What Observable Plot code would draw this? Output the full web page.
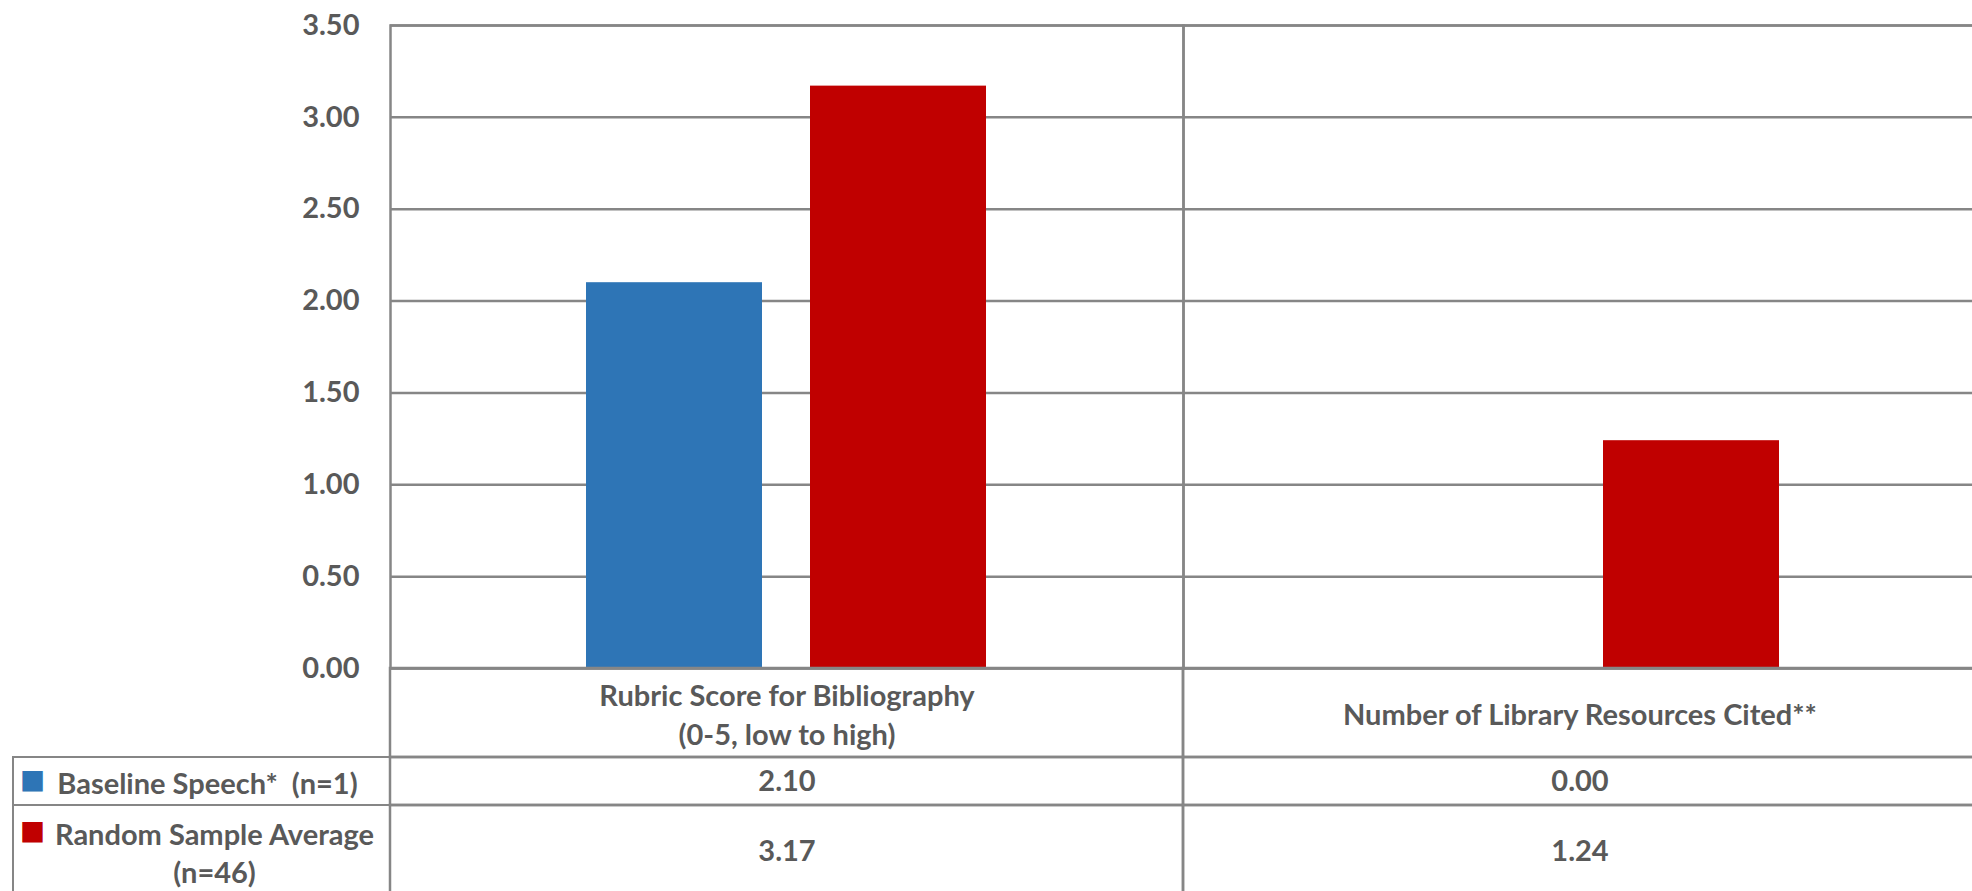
<!DOCTYPE html>
<html><head><meta charset="utf-8">
<script src="https://cdn.jsdelivr.net/npm/d3@7"></script>
<script src="https://cdn.jsdelivr.net/npm/@observablehq/plot@0.6"></script>
<style>
html,body{margin:0;padding:0;background:#fff;overflow:hidden}
#chart{position:relative;width:1972px;height:891px;background:#fff;overflow:hidden}
#chart svg{position:absolute;left:0}
.rowline{position:absolute;box-sizing:border-box;border-top:2.5px solid #868686;border-left:2.5px solid #868686}
text{white-space:pre}
</style></head><body><div id="chart"></div>
<script>
// ---- data ----
const categories = ["Rubric Score for Bibliography\n(0-5, low to high)", "Number of Library Resources Cited**"];
const seriesNames = ["Baseline Speech*  (n=1)", "Random Sample Average\n(n=46)"];
const baselineValues = [2.10, 0.00];
const randomValues = [3.17, 1.24];
const seriesColors = ["#2E75B6", "#C00000"];
const yTicks = [0, 0.5, 1, 1.5, 2, 2.5, 3, 3.5];

const seriesValues = [baselineValues, randomValues];
const rows = categories.flatMap((c, i) => seriesNames.map((s, j) => ({category: c, series: s, value: seriesValues[j][i]})));

// ---- layout / style ----
const W = 1976;
const INK = "#595959", GRID = "#868686", SW = 2.5;
const FS = 29;
const style = {fontFamily: "Lato, 'Open Sans', sans-serif", fontSize: FS + "px", fontWeight: "bold", color: INK, background: "transparent", overflow: "visible", maxWidth: "none"};
const root = document.getElementById("chart");
const fmt = d3.format(".2f");

function place(svg, top) { svg.style.top = top + "px"; root.appendChild(svg); }

// main bar chart
const chart = Plot.plot({
  width: W, height: 680, marginTop: 25, marginBottom: 12, marginLeft: 389, marginRight: 0,
  style,
  fx: {domain: categories, padding: 0, axis: null},
  x: {domain: seriesNames, paddingInner: 0.2133, paddingOuter: 0.871, axis: null},
  y: {domain: [0, 3.5], axis: null},
  color: {domain: seriesNames, range: seriesColors},
  marks: [
    Plot.gridY(yTicks, {stroke: GRID, strokeOpacity: 1, strokeWidth: SW}),
    Plot.barY(rows, {fx: "category", x: "series", y: "value", fill: "series"}),
    Plot.frame({stroke: GRID, strokeWidth: SW}),
    Plot.axisY(yTicks, {tickSize: 0, tickPadding: 31, tickFormat: fmt, fill: INK, label: null})
  ]
});
place(chart, 0);

// header row of the data table (category names)
const header = Plot.plot({
  width: W, height: 89, marginTop: 0, marginBottom: 0, marginLeft: 389, marginRight: 0,
  style,
  x: {domain: categories, padding: 0, axis: null},
  marks: [
    Plot.cell(categories, {x: d => d, fill: "none", stroke: GRID, strokeWidth: SW}),
    Plot.text(categories, {x: d => d, text: d => d, frameAnchor: "middle", lineHeight: 39 / FS, fill: INK})
  ]
});
place(header, 668);

// data rows with legend keys
const rowTops = [757, 805], rowHeights = [48, 92], labelCenters = [207, 214];
const KEY = 42;
seriesNames.forEach((s, i) => {
  const line = document.createElement("div");
  line.className = "rowline";
  Object.assign(line.style, {left: "12px", top: (rowTops[i] - 1.25) + "px", width: (W - 12) + "px", height: (rowHeights[i] + 2) + "px"});
  root.appendChild(line);
  const rowData = rows.filter(r => r.series === s);
  const p = Plot.plot({
    width: W, height: rowHeights[i], marginTop: 0, marginBottom: 0, marginLeft: 389, marginRight: 0,
    style,
    x: {domain: categories, padding: 0, axis: null},
    y: {domain: [s], padding: 0, axis: null},
    marks: [
      Plot.cell(rowData, {x: "category", y: "series", fill: "none", stroke: GRID, strokeWidth: SW}),
      Plot.text(rowData, {x: "category", y: "series", text: d => fmt(d.value), fill: INK}),
      Plot.axisY([s], {tickSize: 0, tickPadding: 389 - labelCenters[i], textAnchor: "middle", lineHeight: 38 / FS, fill: INK, label: null}),
      Plot.axisY([s], {tickSize: 0, tickPadding: 389 - 32, textAnchor: "middle", fontSize: KEY, lineHeight: 38 / KEY,
        tickFormat: d => d.includes("\n") ? "\u25A0\n\u00A0" : "\u25A0", fill: seriesColors[i], label: null})
    ]
  });
  place(p, rowTops[i]);
});
</script></body></html>
